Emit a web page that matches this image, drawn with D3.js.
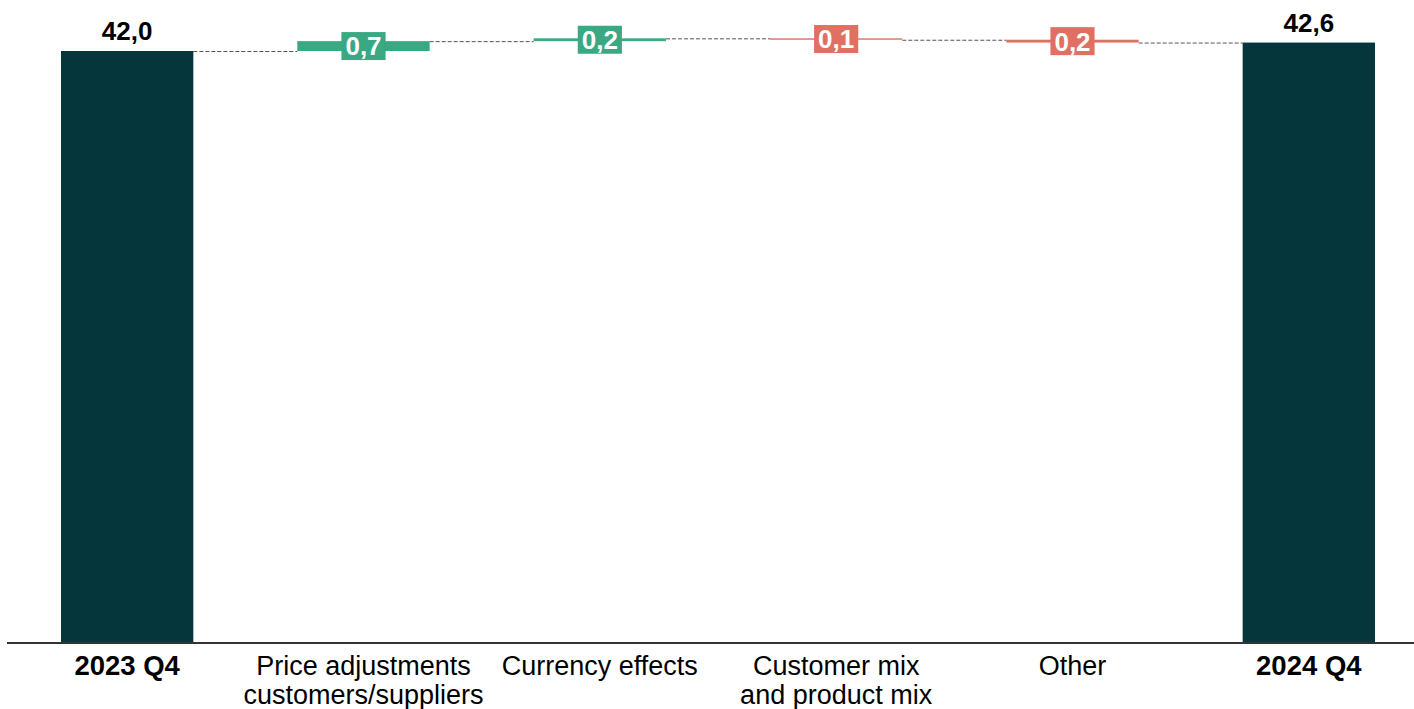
<!DOCTYPE html>
<html>
<head>
<meta charset="utf-8">
<script src="https://cdn.jsdelivr.net/npm/d3@7"></script>
<style>
  html, body { margin: 0; padding: 0; background: #ffffff; }
  svg { display: block; font-family: "Liberation Sans", Arial, sans-serif; }
</style>
</head>
<body>
<svg id="chart" width="1414" height="709"></svg>
<script>
// Waterfall bridge: 2023 Q4 to 2024 Q4
const categories = [
  ["2023 Q4"],
  ["Price adjustments", "customers/suppliers"],
  ["Currency effects"],
  ["Customer mix", "and product mix"],
  ["Other"],
  ["2024 Q4"]
];
const values = [42.0, 0.7, 0.2, -0.1, -0.2, 42.6];
const kinds = ["total", "delta", "delta", "delta", "delta", "total"];

const colors = { total: "#05363b", up: "#3aa883", down: "#e07064" };

const W = 1414, H = 709;
const svg = d3.select("#chart");

const x = d3.scaleBand()
  .domain(d3.range(categories.length))
  .range([9, 1427])
  .paddingInner(0.44)
  .paddingOuter(0.22);

const y = d3.scaleLinear().domain([0, 42]).range([642, 51]);

// running totals: start/end of each bar
let running = 0;
const bars = values.map((v, i) => {
  let start, end;
  if (kinds[i] === "total") { start = 0; end = v; running = v; }
  else { start = running; end = running + v; running = end; }
  return { i, v, start, end, kind: kinds[i] };
});

const fmt = v => d3.format(".1f")(Math.abs(v)).replace(".", ",");

// dashed connectors between consecutive bars, at the running total
const connectors = bars.slice(0, -1).map((b, k) => ({
  x1: x(b.i) + x.bandwidth(),
  x2: x(bars[k + 1].i),
  level: b.end
}));
svg.append("g").selectAll("line").data(connectors).join("line")
  .attr("x1", d => d.x1).attr("x2", d => d.x2)
  .attr("y1", d => y(d.level) + 0.5).attr("y2", d => y(d.level) + 0.5)
  .attr("stroke", "#555").attr("stroke-width", 1)
  .attr("stroke-dasharray", "4,2");

// bars
svg.append("g").selectAll("rect").data(bars).join("rect")
  .attr("x", d => x(d.i))
  .attr("width", x.bandwidth())
  .attr("y", d => y(Math.max(d.start, d.end)))
  .attr("height", d => Math.max(1, Math.abs(y(d.start) - y(d.end))))
  .attr("fill", d => d.kind === "total" ? colors.total : (d.v >= 0 ? colors.up : colors.down));

// total labels above bars
svg.append("g").selectAll("text").data(bars.filter(d => d.kind === "total")).join("text")
  .attr("x", d => x(d.i) + x.bandwidth() / 2)
  .attr("y", d => y(d.end) - 11)
  .attr("text-anchor", "middle")
  .attr("font-size", 26).attr("font-weight", "bold").attr("fill", "#000")
  .text(d => fmt(d.v));

// delta labels in coloured boxes
const dl = svg.append("g").selectAll("g").data(bars.filter(d => d.kind === "delta")).join("g")
  .attr("transform", d => `translate(${x(d.i) + x.bandwidth() / 2},${(y(d.start) + y(d.end)) / 2})`);
dl.append("text")
  .attr("text-anchor", "middle")
  .attr("dy", "0.36em")
  .attr("font-size", 26).attr("font-weight", "bold").attr("fill", "#fff")
  .text(d => fmt(d.v));
dl.each(function(d) {
  const bb = d3.select(this).select("text").node().getBBox();
  d3.select(this).insert("rect", "text")
    .attr("x", -bb.width / 2 - 4).attr("width", bb.width + 8)
    .attr("y", -14).attr("height", 28)
    .attr("fill", d.v >= 0 ? colors.up : colors.down);
});

// baseline axis
svg.append("line")
  .attr("x1", 7).attr("x2", W)
  .attr("y1", y(0) + 1).attr("y2", y(0) + 1)
  .attr("stroke", "#333").attr("stroke-width", 2);

// category labels
const cl = svg.append("g").selectAll("text").data(categories).join("text")
  .attr("x", (d, i) => x(i) + x.bandwidth() / 2)
  .attr("y", 675)
  .attr("text-anchor", "middle")
  .attr("font-size", (d, i) => kinds[i] === "total" ? 27.5 : 27)
  .attr("font-weight", (d, i) => kinds[i] === "total" ? "bold" : "normal")
  .attr("fill", "#000");
cl.selectAll("tspan").data(d => d).join("tspan")
  .attr("x", function() { return d3.select(this.parentNode).attr("x"); })
  .attr("dy", (d, j) => j === 0 ? 0 : 29)
  .text(d => d);
</script>
</body>
</html>
